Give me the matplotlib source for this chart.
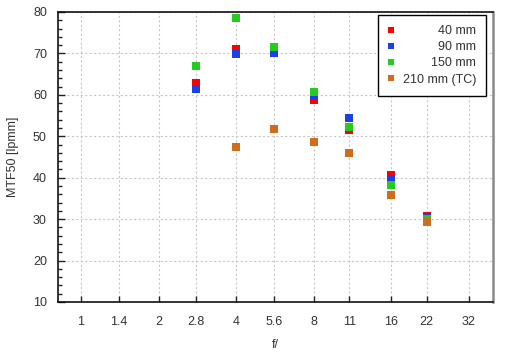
import matplotlib
matplotlib.use("Agg")
import matplotlib.pyplot as plt
from matplotlib.ticker import FixedLocator, FixedFormatter, MultipleLocator

plt.rcParams['font.family'] = ['Liberation Sans', 'DejaVu Sans']

# apertures shown on the axis
f_ticks = [1, 1.4, 2, 2.8, 4, 5.6, 8, 11, 16, 22, 32]
f_labels = ['1', '1.4', '2', '2.8', '4', '5.6', '8', '11', '16', '22', '32']

# measured apertures
f_main = [2.8, 4, 5.6, 8, 11, 16, 22]
f_tc = [4, 5.6, 8, 11, 16, 22]

mtf_40 = [62.8, 71.0, 70.8, 58.8, 51.4, 40.7, 30.8]
mtf_90 = [61.5, 69.9, 70.1, 59.8, 54.5, 39.8, 30.5]
mtf_150 = [67.0, 78.6, 71.5, 60.6, 52.3, 38.2, 30.0]
mtf_210tc = [47.5, 51.8, 48.6, 46.0, 35.9, 29.3]

series = [
    ('40 mm', f_main, mtf_40, '#ff0000'),
    ('90 mm', f_main, mtf_90, '#1f3fe6'),
    ('150 mm', f_main, mtf_150, '#25cc1f'),
    ('210 mm (TC)', f_tc, mtf_210tc, '#cf6d1c'),
]

fig = plt.figure(figsize=(5.06, 3.52), dpi=100)
ax = fig.add_axes([58 / 506, 1 - 302 / 352, (493 - 58) / 506, (302 - 12) / 352])

for label, xs, ys, col in series:
    ax.plot(xs, ys, linestyle='none', marker='s', markersize=5.2,
            markeredgewidth=0, color=col, label=label)

ax.set_xscale('log', base=2)
ax.set_xlim(0.814, 39.8)
ax.set_ylim(10, 80)

ax.xaxis.set_major_locator(FixedLocator(f_ticks))
ax.xaxis.set_major_formatter(FixedFormatter(f_labels))
ax.xaxis.set_minor_locator(FixedLocator([]))
ax.yaxis.set_major_locator(MultipleLocator(10))
ax.yaxis.set_minor_locator(MultipleLocator(2))

txt = '#333333'
ax.tick_params(axis='x', which='major', direction='in', length=4, width=1,
               colors='#222222', labelcolor=txt, labelsize=9, pad=10)
ax.tick_params(axis='y', which='major', direction='in', length=5, width=1,
               colors='#222222', labelcolor=txt, labelsize=9, pad=8)
ax.tick_params(axis='y', which='minor', direction='in', length=3, width=1,
               colors='#222222')

ax.grid(True, which='major', color='#c8c8c8', linestyle=(0, (2, 2)), linewidth=0.8)
ax.set_axisbelow(True)

for side in ['left', 'top', 'bottom']:
    ax.spines[side].set_color('#111111')
    ax.spines[side].set_linewidth(1.2)
ax.spines['right'].set_color('#8a8a8a')
ax.spines['right'].set_linewidth(1.8)

ax.set_xlabel('f/', fontsize=9, color=txt, labelpad=8)
ax.set_ylabel('MTF50 [lpmm]', fontsize=9, color=txt, labelpad=10)

leg = ax.legend(loc='upper right', bbox_to_anchor=(486 / 506, 1 - 15 / 352),
                bbox_transform=fig.transFigure, fontsize=9, frameon=True,
                fancybox=False, edgecolor='#000000', framealpha=1,
                handlelength=0.6, handletextpad=0.6, borderpad=0.8,
                labelspacing=0.34, borderaxespad=0, markerscale=0.9)
leg.get_frame().set_linewidth(1.0)

# right-align legend labels: replace each label by a right-aligned copy
fig.canvas.draw()
renderer = fig.canvas.get_renderer()
texts = leg.get_texts()
boxes = [t.get_window_extent(renderer) for t in texts]
xr = max(b.x1 for b in boxes)
inv = fig.transFigure.inverted()
for t, b in zip(texts, boxes):
    x, y = inv.transform((xr, b.y0))
    fig.text(x, y, t.get_text(), ha='right', va='bottom', fontsize=9, color=txt)
    t.set_visible(False)

fig.savefig('out.png', dpi=100)
